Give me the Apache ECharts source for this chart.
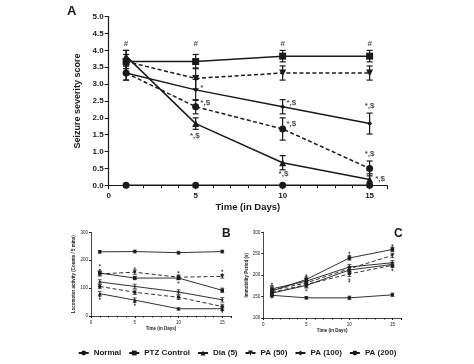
<!DOCTYPE html>
<html><head><meta charset="utf-8">
<script src="https://cdn.jsdelivr.net/npm/echarts@6/dist/echarts.min.js"></script>
<style>html,body{margin:0;padding:0;background:#fff}#c{width:474px;height:364px}</style>
</head><body><div id="c"></div>
<script>
const days = [1, 5, 10, 15];
const seriesNames = ['Normal', 'PTZ Control', 'Dia (5)', 'PA (50)', 'PA (100)', 'PA (200)'];

// Panel A: seizure severity score (mean, error)
const aNormal = [0, 0, 0, 0];
const aPTZ = [3.67, 3.67, 3.83, 3.83];
const aDia = [3.83, 1.83, 0.67, 0.17];
const aPA50 = [3.67, 3.17, 3.33, 3.33];
const aPA100 = [3.33, 2.83, 2.33, 1.83];
const aPA200 = [3.33, 2.33, 1.67, 0.5];
const aNormalErr = [0, 0, 0, 0];
const aPTZErr = [0.33, 0.21, 0.17, 0.17];
const aDiaErr = [0.17, 0.17, 0.21, 0.17];
const aPA50Err = [0.21, 0.31, 0.21, 0.21];
const aPA100Err = [0.21, 0.31, 0.21, 0.31];
const aPA200Err = [0.21, 0.21, 0.33, 0.22];

// Panel A significance marks
const annDays = [1, 5, 10, 15, 5.35, 5.55, 4.95, 10.5, 10.5, 10.05, 15, 15, 15.6];
const annVals = [4.21, 4.21, 4.21, 4.21, 2.9, 2.45, 1.46, 2.45, 1.82, 0.34, 2.35, 0.93, 0.18];
const annTexts = ['#', '#', '#', '#', '*', '*,$', '*,$', '*,$', '*,$', '*,$', '*,$', '*,$', '*,$'];

// Panel B: locomotor activity
const bNormal = [230, 231, 227, 231];
const bPTZ = [154, 136, 136, 92];
const bDia = [80, 57, 26, 26];
const bPA50 = [151, 157, 139, 142];
const bPA100 = [122, 106, 86, 58];
const bPA200 = [106, 85, 67, 34];
const bNormalErr = [5, 5, 5, 5];
const bPTZErr = [8, 6, 6, 8];
const bDiaErr = [8, 8, 4, 6];
const bPA50Err = [8, 8, 8, 6];
const bPA100Err = [8, 8, 8, 8];
const bPA200Err = [8, 8, 8, 8];
const bDotDays = [1, 1, 1, 1, 5, 5, 5, 5, 10, 10, 10, 15, 15, 15, 15];
const bDotVals = [182, 166, 70, 62, 170, 160, 48, 40, 157, 145, 120, 162, 150, 20, 15];

// Panel C: immobility period
const cNormal = [153, 147, 147, 154];
const cPTZ = [163, 190, 240, 260];
const cDia = [158, 176, 212, 225];
const cPA50 = [165, 182, 215, 246];
const cPA100 = [168, 186, 219, 229];
const cPA200 = [160, 178, 203, 223];
const cNormalErr = [4, 3, 4, 4];
const cPTZErr = [8, 6, 5, 5];
const cDiaErr = [8, 6, 6, 5];
const cPA50Err = [8, 6, 6, 5];
const cPA100Err = [8, 6, 6, 5];
const cPA200Err = [8, 6, 6, 5];
const cDotDays = [1, 1, 5, 5, 5, 10, 10, 10, 10, 15, 15, 15, 15];
const cDotVals = [180, 148, 200, 195, 165, 252, 246, 185, 190, 270, 265, 218, 212];

const INK = '#1a1a1a';
const FONT = 'Liberation Sans';
const symbols = ['circle', 'rect', 'triangle', 'triangle', 'diamond', 'circle'];
const rotations = [0, 0, 0, 180, 0, 0];
const dashed = [false, false, false, true, false, true];

function pairs(vals) { return days.map((d, i) => [d, vals[i]]); }

function lineSeries(panel, idx, vals, symSize, lw) {
  return {
    type: 'line', name: seriesNames[idx], xAxisIndex: panel, yAxisIndex: panel,
    data: pairs(vals), symbol: symbols[idx], symbolRotate: rotations[idx], symbolSize: symSize,
    itemStyle: { color: INK },
    lineStyle: { color: INK, width: lw, type: dashed[idx] ? [4, 2.5] : 'solid' },
    z: 3, animation: false
  };
}

function errSeries(panel, means, errs, cap, lw) {
  const data = [];
  means.forEach((m, k) => {
    m.forEach((v, i) => { if (errs[k][i] > 0) data.push([days[i], v - errs[k][i], v + errs[k][i]]); });
  });
  return {
    type: 'custom', xAxisIndex: panel, yAxisIndex: panel, data: data, z: 2, animation: false,
    renderItem: function (params, api) {
      const x = api.value(0);
      const p1 = api.coord([x, api.value(1)]);
      const p2 = api.coord([x, api.value(2)]);
      const st = { stroke: INK, lineWidth: lw };
      return { type: 'group', children: [
        { type: 'line', shape: { x1: p1[0], y1: p1[1], x2: p2[0], y2: p2[1] }, style: st },
        { type: 'line', shape: { x1: p1[0] - cap, y1: p1[1], x2: p1[0] + cap, y2: p1[1] }, style: st },
        { type: 'line', shape: { x1: p2[0] - cap, y1: p2[1], x2: p2[0] + cap, y2: p2[1] }, style: st }
      ] };
    }
  };
}

function dotSeries(panel, ds, vs) {
  return {
    type: 'scatter', xAxisIndex: panel, yAxisIndex: panel, data: ds.map((d, i) => [d, vs[i]]),
    symbolSize: 2, itemStyle: { color: INK }, z: 1, animation: false
  };
}

function xAxis(grid, fs, bold, nameGap, nameFs, margin) {
  return {
    type: 'value', gridIndex: grid, min: 0, max: 16, interval: 5,
    name: 'Time (in Days)', nameLocation: 'middle', nameGap: nameGap,
    nameTextStyle: { fontFamily: FONT, fontSize: nameFs, fontWeight: 'bold', color: INK },
    axisLine: { lineStyle: { color: INK, width: grid === 0 ? 1.2 : 0.8 } },
    axisTick: { length: grid === 0 ? 4 : 2, lineStyle: { color: INK } },
    minorTick: { show: true, splitNumber: 5, length: grid === 0 ? 3 : 1.5, lineStyle: { color: INK } },
    axisLabel: { fontFamily: FONT, fontSize: fs, fontWeight: bold ? 'bold' : 'normal', color: INK, margin: margin, showMaxLabel: false,
      formatter: v => (v % 5 === 0 ? String(v) : '') },
    splitLine: { show: false }
  };
}

function yAxis(grid, min, max, interval, name, fs, bold, nameGap, nameFs, margin, dec) {
  return {
    type: 'value', gridIndex: grid, min: min, max: max, interval: interval,
    name: name, nameLocation: 'middle', nameGap: nameGap,
    nameTextStyle: { fontFamily: FONT, fontSize: nameFs, fontWeight: 'bold', color: INK },
    axisLine: { show: true, lineStyle: { color: INK, width: grid === 0 ? 1.2 : 0.8 } },
    axisTick: { show: true, length: grid === 0 ? 4 : 2, lineStyle: { color: INK } },
    axisLabel: { fontFamily: FONT, fontSize: fs, fontWeight: bold ? 'bold' : 'normal', color: INK, margin: margin,
      formatter: v => v.toFixed(dec) },
    splitLine: { show: false }
  };
}

const aMeans = [aNormal, aPTZ, aDia, aPA50, aPA100, aPA200];
const aErrs = [aNormalErr, aPTZErr, aDiaErr, aPA50Err, aPA100Err, aPA200Err];
const bMeans = [bNormal, bPTZ, bDia, bPA50, bPA100, bPA200];
const bErrs = [bNormalErr, bPTZErr, bDiaErr, bPA50Err, bPA100Err, bPA200Err];
const cMeans = [cNormal, cPTZ, cDia, cPA50, cPA100, cPA200];
const cErrs = [cNormalErr, cPTZErr, cDiaErr, cPA50Err, cPA100Err, cPA200Err];

const series = [];
aMeans.forEach((m, i) => series.push(lineSeries(0, i, m, i === 4 ? 5 : 7, 1.5)));
series.push(errSeries(0, aMeans, aErrs, 3, 1.2));
series.push({
  type: 'scatter', xAxisIndex: 0, yAxisIndex: 0, symbolSize: 0, animation: false, z: 4,
  data: annDays.map((d, i) => ({ value: [d, annVals[i]], label: { formatter: annTexts[i] } })),
  label: { show: true, position: 'inside', fontFamily: FONT, fontSize: 8, fontWeight: 'bold', color: INK }
});
bMeans.forEach((m, i) => series.push(lineSeries(1, i, m, i === 4 ? 3 : 3.5, 0.9)));
series.push(errSeries(1, bMeans, bErrs, 2, 0.7));
series.push(dotSeries(1, bDotDays, bDotVals));
cMeans.forEach((m, i) => series.push(lineSeries(2, i, m, i === 4 ? 3 : 3.5, 0.9)));
series.push(errSeries(2, cMeans, cErrs, 2, 0.7));
series.push(dotSeries(2, cDotDays, cDotVals));

const option = {
  backgroundColor: '#fff',
  animation: false,
  grid: [
    { left: 108.7, right: 87, top: 16.7, bottom: 178.7 },
    { left: 91, right: 243, top: 232.3, bottom: 48 },
    { left: 263.3, right: 73, top: 232.3, bottom: 46 }
  ],
  xAxis: [
    xAxis(0, 8, true, 17, 9.5, 6),
    xAxis(1, 4.5, false, 8, 4.5, 4),
    xAxis(2, 4.5, false, 8, 4.5, 4)
  ],
  yAxis: [
    yAxis(0, 0, 5, 0.5, 'Seizure severity score', 8, true, 21, 9, 5, 1),
    yAxis(1, 0, 300, 100, 'Locomotor activity (Counts / 5 mins)', 4.5, false, 13, 4.5, 3, 0),
    yAxis(2, 100, 300, 50, 'Immobility Period (s)', 4.5, false, 9, 4.5, 3, 0)
  ],
  legend: {
    data: seriesNames, left: 'center', top: 344, itemWidth: 10, itemHeight: 6, itemGap: 7,
    textStyle: { fontFamily: FONT, fontSize: 8, fontWeight: 'bold', color: INK }
  },
  graphic: [
    { type: 'text', left: 67, top: 5, style: { text: 'A', font: 'bold 13px "Liberation Sans"', fill: INK } },
    { type: 'text', left: 222, top: 228, style: { text: 'B', font: 'bold 12px "Liberation Sans"', fill: INK } },
    { type: 'text', left: 394, top: 228, style: { text: 'C', font: 'bold 12px "Liberation Sans"', fill: INK } }
  ],
  series: series
};
const chart = echarts.init(document.getElementById('c'), null, { renderer: 'canvas' });
chart.setOption(option);
</script></body></html>
